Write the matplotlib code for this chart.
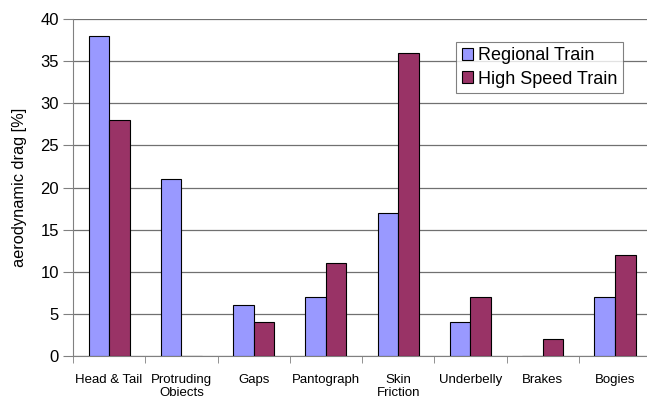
import numpy as np
import matplotlib.pyplot as plt

plt.rcParams['font.family'] = ['Liberation Sans', 'DejaVu Sans']

# drag share per component
categories = ['Head & Tail', 'Protruding\nObjects', 'Gaps', 'Pantograph',
              'Skin\nFriction', 'Underbelly', 'Brakes', 'Bogies']
regional = [38, 21, 6, 7, 17, 4, 0, 7]
high_speed = [28, 0, 4, 11, 36, 7, 2, 12]

x = np.arange(len(categories))
w = 0.285

fig = plt.figure(figsize=(6.47, 3.96), dpi=100)
ax = fig.add_axes([0.1128, 0.101, 0.8935, 0.851])

ax.bar(x - w/2, regional, w, color='#9999FF', edgecolor='black',
       linewidth=0.8, label='Regional Train', zorder=3)
ax.bar(x + w/2, high_speed, w, color='#993366', edgecolor='black',
       linewidth=0.8, label='High Speed Train', zorder=3)

ax.set_xlim(-0.5, len(categories) - 0.5)
ax.set_ylim(0, 40)
ax.set_yticks(np.arange(0, 41, 5))
ax.tick_params(axis='y', labelsize=12, length=7, color='#808080', pad=3)
ax.yaxis.grid(True, color='#707070', linewidth=0.9, zorder=0)

# category labels centred, ticks between categories
ax.set_xticks(x)
ax.set_xticklabels(categories, fontsize=9.5, linespacing=1.05)
ax.tick_params(axis='x', length=0, pad=13)
ax.set_xticks(np.arange(-0.5, len(categories), 1), minor=True)
ax.tick_params(axis='x', which='minor', length=5, color='#808080')

for s in ['top', 'right']:
    ax.spines[s].set_visible(False)
for s in ['left', 'bottom']:
    ax.spines[s].set_color('#808080')

ax.set_ylabel('aerodynamic drag [%]', fontsize=11.8, labelpad=10)

leg = ax.legend(loc='upper right', bbox_to_anchor=(0.951, 0.932),
                fontsize=13, frameon=True, fancybox=False,
                handlelength=0.65, handleheight=0.65, handletextpad=0.25,
                borderpad=0.3, labelspacing=0.35, borderaxespad=0)
leg.get_frame().set_edgecolor('#606060')
leg.get_frame().set_linewidth(0.8)
leg.set_zorder(5)

fig.savefig('out.png', dpi=100)
